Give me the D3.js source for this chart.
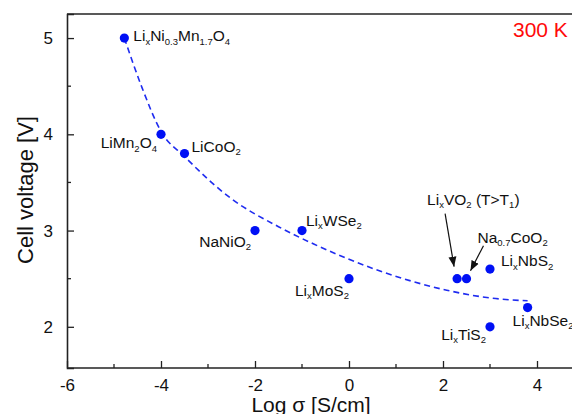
<!DOCTYPE html>
<html>
<head>
<meta charset="utf-8">
<script src="https://cdn.jsdelivr.net/npm/d3@7"></script>
<style>
  html, body { margin: 0; padding: 0; background: #fff; }
  svg { display: block; font-family: "Liberation Sans", Arial, sans-serif; }
</style>
</head>
<body>
<svg id="chart" width="572" height="414"></svg>
<script>
// Compounds: label (with _{} subscripts), log conductivity, cell voltage
const materials = [
  "Li_{x}Ni_{0.3}Mn_{1.7}O_{4}", "LiMn_{2}O_{4}", "LiCoO_{2}", "NaNiO_{2}",
  "Li_{x}WSe_{2}", "Li_{x}MoS_{2}", "Li_{x}VO_{2} (T>T_{1})", "Na_{0.7}CoO_{2}",
  "Li_{x}NbS_{2}", "Li_{x}NbSe_{2}", "Li_{x}TiS_{2}"
];
const logSigma = [-4.78, -4.0, -3.5, -2.0, -1.0, 0.0, 2.3, 2.5, 3.0, 3.8, 3.0];
const voltage  = [5.0, 4.0, 3.8, 3.0, 3.0, 2.5, 2.5, 2.5, 2.6, 2.2, 2.0];

// Guide-to-the-eye trend line through the data
const trendX = [-4.78, -4.4, -4.0, -3.5, -2.5, -1.5, -0.75, 0.66, 2.08, 3.0, 3.8];
const trendY = [5.0, 4.48, 4.03, 3.77, 3.33, 3.04, 2.86, 2.58, 2.38, 2.3, 2.27];

const xTicks = [-6, -4, -2, 0, 2, 4];
const xMinor = [-5, -3, -1, 1, 3];
const yTicks = [2, 3, 4, 5];
const yMinor = [2.5, 3.5, 4.5];

// Label placement in pixels relative to each point
const labelStyle = [
  {dx: 9,   dy: 3,   anchor: "start"},
  {dx: -4,  dy: 14,  anchor: "end"},
  {dx: 7,   dy: -2,  anchor: "start"},
  {dx: -4,  dy: 16,  anchor: "end"},
  {dx: 4,   dy: -5,  anchor: "start"},
  {dx: 0,   dy: 17,  anchor: "end"},
  {dx: -30, dy: -74, anchor: "start", arrow: [-12, -65, -3, -12]},
  {dx: 11,  dy: -36, anchor: "start", arrow: [17, -33, 4, -8]},
  {dx: 11,  dy: -3,  anchor: "start"},
  {dx: -15, dy: 18,  anchor: "start"},
  {dx: -4,  dy: 13,  anchor: "end"}
];

const svg = d3.select("#chart");
const x = d3.scaleLinear().domain([-6, 5]).range([67, 584]);
const y = d3.scaleLinear().domain([1.572, 5.25]).range([368, 14]);

const axisColor = "#222";
const plain = d => String(d);   // ASCII hyphen for negatives

// Frame: left, bottom and top edges
svg.append("line").attr("x1", x(-6)).attr("x2", 572).attr("y1", y(5.25)).attr("y2", y(5.25))
  .attr("stroke", axisColor).attr("stroke-width", 1.6);

const gx = svg.append("g").attr("transform", `translate(0,${y.range()[0]})`)
  .call(d3.axisBottom(x).tickValues(xTicks).tickSize(-7).tickPadding(11).tickFormat(plain));
gx.selectAll(".tick text").attr("font-size", 17).attr("fill", "#111").attr("dy", "0.71em");
gx.append("g").selectAll("line").data(xMinor).join("line")
  .attr("x1", d => x(d)).attr("x2", d => x(d)).attr("y1", 0).attr("y2", -4)
  .attr("stroke", axisColor).attr("stroke-width", 1.3);

const gy = svg.append("g").attr("transform", `translate(${x.range()[0]},0)`)
  .call(d3.axisLeft(y).tickValues(yTicks).tickSize(-7).tickPadding(14).tickFormat(plain));
gy.selectAll(".tick text").attr("font-size", 17).attr("fill", "#111");
gy.append("g").selectAll("line").data(yMinor).join("line")
  .attr("y1", d => y(d)).attr("y2", d => y(d)).attr("x1", 0).attr("x2", 4)
  .attr("stroke", axisColor).attr("stroke-width", 1.3);

[gx, gy].forEach(g => {
  g.select(".domain").attr("stroke", axisColor).attr("stroke-width", 1.6);
  g.selectAll(".tick line").attr("stroke", axisColor).attr("stroke-width", 1.3);
});
gx.select(".domain").attr("d", `M${x(-6)},0H572`);

// Axis titles
svg.append("text").attr("x", 311).attr("y", 412)
  .attr("text-anchor", "middle").attr("font-size", 21).attr("fill", "#111")
  .text("Log σ [S/cm]");
svg.append("text").attr("transform", "translate(33,190) rotate(-90)")
  .attr("text-anchor", "middle").attr("font-size", 22).attr("fill", "#111")
  .text("Cell voltage [V]");

// Temperature tag
svg.append("text").attr("x", 513).attr("y", 37).attr("font-size", 21)
  .attr("fill", "#ff0a0a").text("300 K");

// Dashed trend line
const trend = trendX.map((v, i) => [v, trendY[i]]);
svg.append("path").datum(trend)
  .attr("d", d3.line().x(d => x(d[0])).y(d => y(d[1])).curve(d3.curveMonotoneX))
  .attr("fill", "none").attr("stroke", "#1f2cf0").attr("stroke-width", 1.6)
  .attr("stroke-dasharray", "6,4");

// Data points
const pts = materials.map((m, i) => ({name: m, xv: logSigma[i], yv: voltage[i], st: labelStyle[i]}));
svg.append("g").selectAll("circle").data(pts).join("circle")
  .attr("cx", d => x(d.xv)).attr("cy", d => y(d.yv)).attr("r", 4.6)
  .attr("fill", "#0010f5");

// Arrows for crowded labels
svg.append("defs").append("marker").attr("id", "head")
  .attr("viewBox", "0 0 10 10").attr("refX", 10).attr("refY", 5)
  .attr("markerWidth", 10).attr("markerHeight", 10).attr("markerUnits", "userSpaceOnUse")
  .attr("orient", "auto")
  .append("path").attr("d", "M0,1 L10,5 L0,9 Z").attr("fill", "#111");
svg.append("g").selectAll("line").data(pts.filter(d => d.st.arrow)).join("line")
  .attr("x1", d => x(d.xv) + d.st.arrow[0]).attr("y1", d => y(d.yv) + d.st.arrow[1])
  .attr("x2", d => x(d.xv) + d.st.arrow[2]).attr("y2", d => y(d.yv) + d.st.arrow[3])
  .attr("stroke", "#111").attr("stroke-width", 1.2).attr("marker-end", "url(#head)");

// Chemical formula labels with subscripts
function parseFormula(s) {
  const parts = [];
  const re = /_\{([^}]*)\}/g;
  let last = 0, m;
  while ((m = re.exec(s)) !== null) {
    if (m.index > last) parts.push({t: s.slice(last, m.index), sub: false});
    parts.push({t: m[1], sub: true});
    last = re.lastIndex;
  }
  if (last < s.length) parts.push({t: s.slice(last), sub: false});
  return parts;
}
const labels = svg.append("g").selectAll("text").data(pts).join("text")
  .attr("x", d => x(d.xv) + d.st.dx).attr("y", d => y(d.yv) + d.st.dy)
  .attr("text-anchor", d => d.st.anchor).attr("font-size", 15.5).attr("fill", "#111");
labels.each(function(d) {
  const t = d3.select(this);
  let shifted = false;
  parseFormula(d.name).forEach(p => {
    const sp = t.append("tspan").text(p.t);
    if (p.sub && !shifted) { sp.attr("font-size", 9.5).attr("dy", 3.5); shifted = true; }
    else if (!p.sub && shifted) { sp.attr("dy", -3.5); shifted = false; }
    else if (p.sub) sp.attr("font-size", 9.5);
  });
});
</script>
</body>
</html>
